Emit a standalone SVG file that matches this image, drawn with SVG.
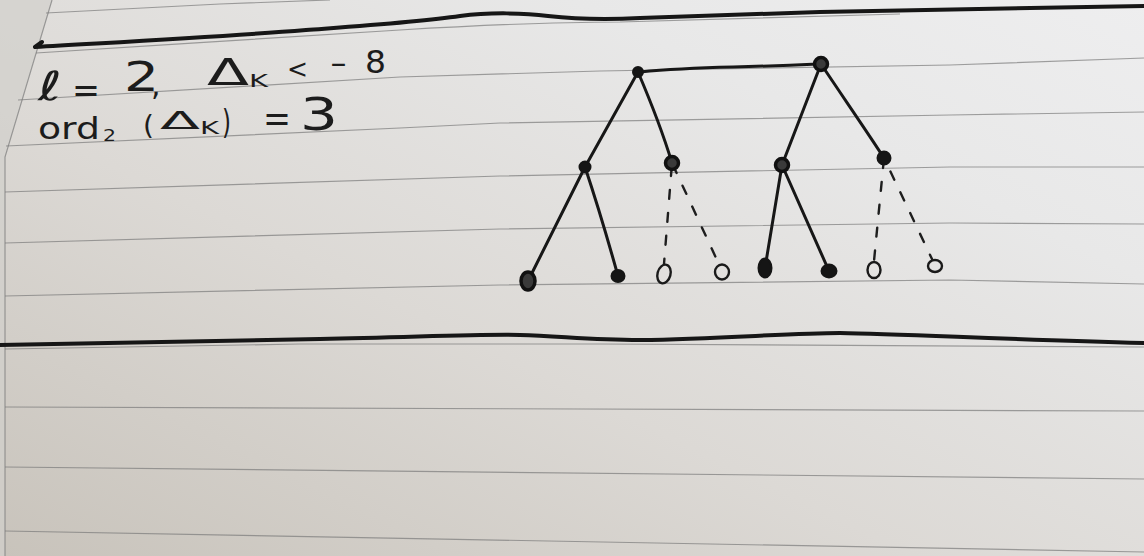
<svg xmlns="http://www.w3.org/2000/svg" width="1144" height="556" viewBox="0 0 1144 556">
<defs>
<linearGradient id="paper" x1="0" y1="1" x2="1" y2="0">
<stop offset="0" stop-color="#c8c3bb"/>
<stop offset="0.4" stop-color="#dcd9d5"/>
<stop offset="0.75" stop-color="#e8e8e8"/>
<stop offset="1" stop-color="#eeeeef"/>
</linearGradient>
<style>
.rule{fill:none;stroke:#7a7a7a;stroke-width:1.2;stroke-opacity:0.7}
.thick{fill:none;stroke:#161616;stroke-width:4;stroke-linecap:round;stroke-linejoin:round}
.edge{fill:none;stroke:#171717;stroke-width:3;stroke-linecap:round}
.dash{fill:none;stroke:#1e1e1e;stroke-width:2.4;stroke-dasharray:9 14;stroke-linecap:round}
.full{fill:#151515;stroke:#151515;stroke-width:2}
.open{fill:none;stroke:#1a1a1a;stroke-width:2.4}
.ring{fill:#3a3a3a;stroke:#111;stroke-width:3.5}
text{font-family:"DejaVu Sans","Liberation Sans",sans-serif;fill:#1c1c1c}
</style>
</defs>
<rect width="1144" height="556" fill="url(#paper)"/>
<polygon points="0,0 52,0 5,157 5,556 0,556" fill="#d2d0cc" opacity="0.7"/>
<path class="rule" d="M52,0 L5,157 L5,556"/>
<g id="ruling">
<path class="rule" d="M46,13 L220,4 L330,0"/>
<path class="rule" d="M36,53 C150,46 300,36 400,30 S560,22 620,22 L900,14"/>
<path class="rule" d="M18,100 L400,77 L600,71 L950,65 L1144,58"/>
<path class="rule" d="M6,146 L400,128 L500,123 L950,115 L1144,112"/>
<path class="rule" d="M5,192 L500,176 L950,167 L1144,167"/>
<path class="rule" d="M5,243 L500,229 L950,223 L1144,224"/>
<path class="rule" d="M5,296 L500,285 L950,280 L1144,284"/>
<path class="rule" d="M5,349 L300,344 L600,344 L1144,347"/>
<path class="rule" d="M5,407 L1144,411"/>
<path class="rule" d="M5,467 L1144,479"/>
<path class="rule" d="M5,531 L1144,552"/>
</g>
<path class="thick" d="M42,42 L35,47 C120,42 220,37 306,30 C360,26 420,22 460,16 C490,12 525,13 548,16 C575,19 600,20 640,18 C700,16 760,14 820,12 C920,10 1030,8 1144,6"/>
<path class="thick" d="M0,345 C120,343 220,341 320,339 C420,337 480,334 520,335 C560,336 590,340 640,340 C720,339 790,333 840,333 C900,334 1000,339 1144,343"/>
<g id="notes">
<text x="38" y="100" font-size="40" textLength="24" lengthAdjust="spacingAndGlyphs">ℓ</text>
<text x="72" y="102" font-size="36" textLength="28" lengthAdjust="spacingAndGlyphs">=</text>
<text x="124" y="91" font-size="40" textLength="35" lengthAdjust="spacingAndGlyphs">2</text>
<text x="151" y="95" font-size="30">,</text>
<text x="207" y="85" font-size="38" textLength="42" lengthAdjust="spacingAndGlyphs">Δ</text>
<text x="249" y="87" font-size="18" textLength="19" lengthAdjust="spacingAndGlyphs">K</text>
<text x="287" y="78" font-size="26" textLength="21" lengthAdjust="spacingAndGlyphs">&lt;</text>
<text x="330" y="73" font-size="26" textLength="17" lengthAdjust="spacingAndGlyphs">−</text>
<text x="365" y="73" font-size="32" textLength="21" lengthAdjust="spacingAndGlyphs">8</text>
<text x="38" y="139" font-size="30" textLength="62" lengthAdjust="spacingAndGlyphs">ord</text>
<text x="103" y="141" font-size="16" textLength="13" lengthAdjust="spacingAndGlyphs">2</text>
<text x="143" y="134" font-size="26" textLength="11" lengthAdjust="spacingAndGlyphs">(</text>
<text x="160" y="129" font-size="24" textLength="40" lengthAdjust="spacingAndGlyphs">Δ</text>
<text x="200" y="134" font-size="18" textLength="19" lengthAdjust="spacingAndGlyphs">K</text>
<text x="222" y="134" font-size="34" textLength="9" lengthAdjust="spacingAndGlyphs">)</text>
<text x="263" y="131" font-size="38" textLength="28" lengthAdjust="spacingAndGlyphs">=</text>
<text x="300" y="130" font-size="45" textLength="38" lengthAdjust="spacingAndGlyphs">3</text>
</g>
<g id="connectors">
<path class="edge" d="M640,72 C660,70 690,68 733,67 C770,66 795,65 818,64"/>
<path class="edge" d="M638,72 L585,167"/>
<path class="edge" d="M638,72 C650,100 662,130 672,163"/>
<path class="edge" d="M821,64 L782,165"/>
<path class="edge" d="M821,64 C845,100 866,130 884,158"/>
<path class="edge" d="M585,167 L528,281"/>
<path class="edge" d="M585,167 C596,200 608,240 618,276"/>
<path class="edge" d="M782,165 L765,268"/>
<path class="edge" d="M782,165 L829,271"/>
<path class="dash" d="M672,163 L664,264" stroke-dashoffset="-4"/>
<path class="dash" d="M672,163 L717,260" stroke-dashoffset="-2"/>
<path class="dash" d="M884,158 L874,261" stroke-dashoffset="-1"/>
<path class="dash" d="M884,158 L932,259" stroke-dashoffset="8"/>
</g>
<g id="node-r1"><circle class="full" cx="638" cy="72" r="5"/></g>
<g id="node-r2"><circle class="ring" cx="821" cy="64" r="6.5"/></g>
<g id="node-m1"><circle class="full" cx="585" cy="167" r="5.5"/></g>
<g id="node-m2"><circle class="ring" cx="672" cy="163" r="6.5"/></g>
<g id="node-m3"><circle class="ring" cx="782" cy="165" r="6.5"/></g>
<g id="node-m4"><circle class="full" cx="884" cy="158" r="6.5"/></g>
<g id="leaf-1"><ellipse class="ring" cx="528" cy="281" rx="7" ry="9"/></g>
<g id="leaf-2"><ellipse class="full" cx="618" cy="276" rx="6.5" ry="6"/></g>
<g id="leaf-3"><ellipse class="open" cx="664" cy="274" rx="6.5" ry="9.5" transform="rotate(15 664 274)"/></g>
<g id="leaf-4"><ellipse class="open" cx="722" cy="272" rx="7" ry="7.5"/></g>
<g id="leaf-5"><ellipse class="full" cx="765" cy="268" rx="6.5" ry="9.5"/></g>
<g id="leaf-6"><ellipse class="full" cx="829" cy="271" rx="7.5" ry="6.5"/></g>
<g id="leaf-7"><ellipse class="open" cx="874" cy="270" rx="6.5" ry="8"/></g>
<g id="leaf-8"><ellipse class="open" cx="935" cy="266" rx="7" ry="6"/></g>
</svg>
